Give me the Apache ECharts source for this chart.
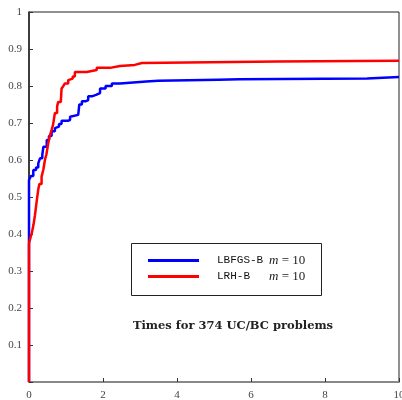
<!DOCTYPE html>
<html>
<head>
<meta charset="utf-8">
<script src="https://cdn.jsdelivr.net/npm/echarts@6/dist/echarts.min.js"></script>
<style>html,body{margin:0;padding:0;background:#fff}#c{width:402px;height:400px}</style>
</head>
<body>
<div id="c"></div>
<script>
// Performance-profile style data: [time, fraction solved]
const seriesNames = ['LBFGS-B', 'LRH-B'];
const xTicks = [0, 2, 4, 6, 8, 10];
const yTicks = [0.1, 0.2, 0.3, 0.4, 0.5, 0.6, 0.7, 0.8, 0.9, 1];
const titleText = 'Times for 374 UC/BC problems';

const lbfgsb = [
  [0, 0], [0, 0.546], [0.054, 0.557], [0.116, 0.573], [0.19, 0.58], [0.25, 0.591],
  [0.30, 0.605], [0.36, 0.615], [0.39, 0.636], [0.48, 0.654], [0.54, 0.665],
  [0.61, 0.678], [0.70, 0.686], [0.75, 0.69], [0.81, 0.697], [0.88, 0.706],
  [1.05, 0.708], [1.11, 0.717], [1.16, 0.722], [1.33, 0.724], [1.36, 0.75],
  [1.43, 0.759], [1.54, 0.762], [1.60, 0.772], [1.70, 0.776], [1.81, 0.781],
  [1.92, 0.793], [2.07, 0.80], [2.24, 0.807], [2.46, 0.812], [3.17, 0.814],
  [3.49, 0.817], [5.11, 0.818], [5.70, 0.820], [9.14, 0.824], [10, 0.824]
];
const lrhb = [
  [0, 0], [0, 0.375], [0.04, 0.39], [0.07, 0.40], [0.12, 0.424], [0.16, 0.45],
  [0.21, 0.49], [0.25, 0.52], [0.28, 0.535], [0.34, 0.555], [0.39, 0.575],
  [0.43, 0.60], [0.47, 0.615], [0.52, 0.645], [0.57, 0.668], [0.61, 0.681],
  [0.65, 0.695], [0.68, 0.70], [0.70, 0.727], [0.76, 0.745], [0.79, 0.757],
  [0.86, 0.762], [0.88, 0.793], [0.93, 0.80], [0.97, 0.807], [1.06, 0.816],
  [1.11, 0.82], [1.18, 0.826], [1.24, 0.838], [1.56, 0.843], [1.83, 0.849],
  [2.19, 0.854], [2.46, 0.857], [2.86, 0.862], [3.05, 0.866], [6.72, 0.868],
  [10, 0.868]
];

const chart = echarts.init(document.getElementById('c'), null, {renderer: 'canvas'});
const serif = 'Liberation Serif';
chart.setOption({
  animation: false,
  backgroundColor: '#fff',
  grid: {left: 29, right: 3, top: 12, bottom: 18, show: true, borderColor: '#222', borderWidth: 1,
    containLabel: false, outerBoundsMode: 'none'},
  xAxis: {
    type: 'value', min: 0, max: 10, interval: 2,
    axisLine: {show: true, lineStyle: {color: '#888', width: 2}},
    axisTick: {show: true, inside: true, length: 4, lineStyle: {color: '#333'}},
    axisLabel: {margin: 8, fontFamily: serif, fontSize: 11, color: '#444',
      formatter: v => xTicks.includes(v) ? String(v) : ''},
    splitLine: {show: false}
  },
  yAxis: {
    type: 'value', min: 0, max: 1, interval: 0.1,
    axisLine: {show: true, lineStyle: {color: '#222', width: 1.5}},
    axisTick: {show: true, inside: true, length: 4, lineStyle: {color: '#333'}},
    axisLabel: {margin: 7, fontFamily: serif, fontSize: 11, color: '#444',
      formatter: v => {
        const r = Math.round(v * 10) / 10;
        return yTicks.includes(r) ? String(r) : '';
      }},
    splitLine: {show: false}
  },
  legend: {
    data: seriesNames,
    orient: 'vertical',
    left: 148, top: 254,
    padding: 0,
    itemGap: 3,
    itemWidth: 51, itemHeight: 3,
    icon: 'rect',
    formatter: name => '{a|' + name + '}{m|m}{b| = 10}',
    textStyle: {
      rich: {
        a: {fontFamily: 'Liberation Mono', fontSize: 11, color: '#111', width: 52, padding: [0, 0, 0, 13]},
        m: {fontFamily: serif, fontStyle: 'italic', fontSize: 13, color: '#222'},
        b: {fontFamily: serif, fontSize: 13, color: '#222'}
      }
    }
  },
  graphic: [
    {type: 'rect', shape: {x: 131.5, y: 243.5, width: 190, height: 52},
      style: {fill: 'none', stroke: '#222', lineWidth: 1}, z: 0},
    {type: 'text', x: 233, y: 326, style: {text: titleText, fontFamily: 'DejaVu Serif', fontWeight: 'bold',
      fontSize: 11.5, fill: '#222', align: 'center', verticalAlign: 'middle'}}
  ],
  series: [
    {name: seriesNames[0], type: 'line', data: lbfgsb, step: 'end', showSymbol: false, clip: false,
      lineStyle: {color: '#0000ff', width: 2.5}, itemStyle: {color: '#0000ff'}},
    {name: seriesNames[1], type: 'line', data: lrhb, step: 'end', showSymbol: false, clip: false,
      lineStyle: {color: '#ff0000', width: 2.5}, itemStyle: {color: '#ff0000'}}
  ]
});
</script>
</body>
</html>
